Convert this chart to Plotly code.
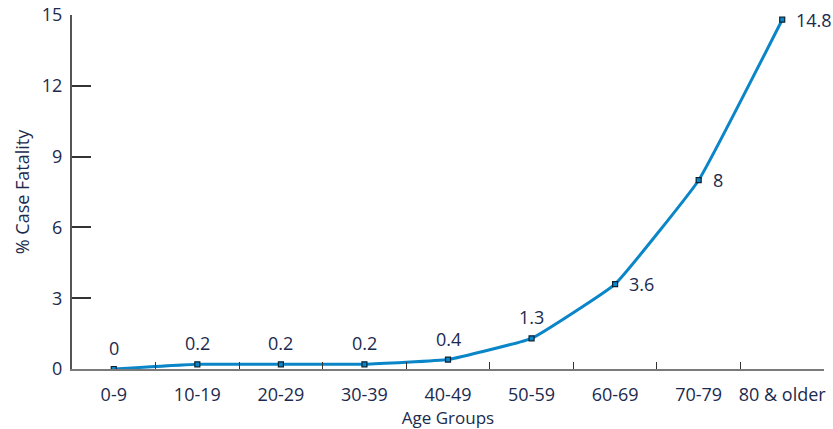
import plotly.graph_objects as go

# Case fatality by age group
age_groups = ["0-9", "10-19", "20-29", "30-39", "40-49", "50-59", "60-69", "70-79", "80 & older"]
fatality = [0, 0.2, 0.2, 0.2, 0.4, 1.3, 3.6, 8, 14.8]
label_side = ["top", "top", "top", "top", "top", "top", "right", "right", "right"]
y_ticks = [0, 3, 6, 9, 12, 15]

NAVY = "#1b2a4e"
BLUE = "#0a86c8"
FONT = "Open Sans"

fig = go.Figure()
fig.add_trace(go.Scatter(
    x=age_groups,
    y=fatality,
    mode="lines+markers",
    line=dict(color=BLUE, width=3, shape="spline", smoothing=0.3),
    marker=dict(symbol="square", size=5, color=BLUE, line=dict(color="#0b2233", width=1.2)),
    hoverinfo="x+y",
    showlegend=False,
))

for g, v, side in zip(age_groups, fatality, label_side):
    if side == "top":
        fig.add_annotation(x=g, y=v, text=f"{v:g}", showarrow=False,
                           xanchor="center", yanchor="bottom", yshift=7,
                           font=dict(family=FONT, size=18, color=NAVY))
    else:
        fig.add_annotation(x=g, y=v, text=f"{v:g}", showarrow=False,
                           xanchor="left", yanchor="middle", xshift=12,
                           font=dict(family=FONT, size=18, color=NAVY))

fig.update_layout(
    width=833, height=429,
    margin=dict(l=72, r=9, t=15, b=60),
    paper_bgcolor="white",
    plot_bgcolor="white",
    font=dict(family=FONT, size=17, color=NAVY),
    xaxis=dict(
        type="category",
        range=[-0.5, 8.5],
        tickson="boundaries",
        tickangle=0,
        automargin=False,
        ticks="inside", ticklen=7, tickwidth=1.2, tickcolor="#333333",
        showline=True, linecolor="#7a7a7a", linewidth=2,
        showgrid=False, zeroline=False,
        ticklabelstandoff=8,
        tickfont=dict(family=FONT, size=18, color=NAVY),
        title=dict(text="Age Groups", font=dict(family=FONT, size=17, color=NAVY), standoff=11),
    ),
    yaxis=dict(
        range=[0, 15],
        tickvals=y_ticks,
        automargin=False,
        ticks="inside", ticklen=19, tickwidth=1.5, tickcolor="#333333",
        showline=True, linecolor="#555555", linewidth=2,
        showgrid=False, zeroline=False,
        tickfont=dict(family=FONT, size=18, color=NAVY),
        ticklabelstandoff=4,
        title=dict(text="% Case Fatality", font=dict(family=FONT, size=18, color=NAVY), standoff=8),
    ),
)

fig.write_html("out.html")
